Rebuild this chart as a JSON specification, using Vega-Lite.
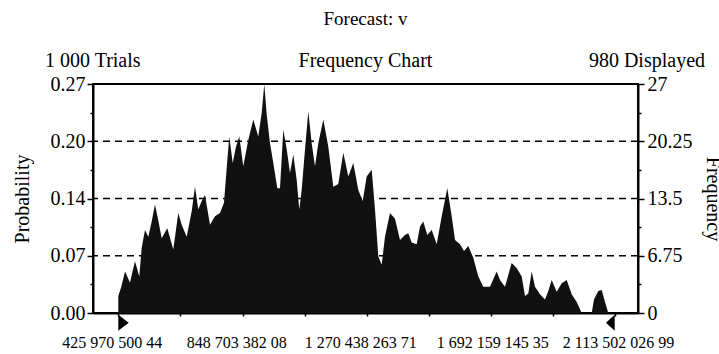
{
  "$schema": "https://vega.github.io/schema/vega-lite/v6.json",
  "width": 545,
  "height": 229,
  "autosize": {"type": "none"},
  "padding": {"left": 93, "top": 84, "right": 81, "bottom": 41},
  "background": "white",
  "config": {
    "font": "Liberation Serif",
    "view": {"stroke": "black", "strokeWidth": 2},
    "axis": {
      "domainColor": "black", "tickColor": "black", "labelColor": "black", "titleColor": "black",
      "labelFont": "Liberation Serif", "titleFont": "Liberation Serif", "titleFontWeight": "normal"
    }
  },
  "title": {
    "text": "Forecast: v",
    "subtitle": "Frequency Chart",
    "anchor": "middle",
    "font": "Liberation Serif",
    "fontSize": 19,
    "fontWeight": "normal",
    "color": "black",
    "subtitleFont": "Liberation Serif",
    "subtitleFontSize": 20,
    "subtitleColor": "black",
    "subtitlePadding": 22,
    "offset": -20
  },
  "layer": [
    {
      "data": {"values": [{"g": 6.75}, {"g": 13.5}, {"g": 20.25}]},
      "mark": {"type": "rule", "strokeDash": [7, 5], "strokeWidth": 1.6, "color": "black"},
      "encoding": {
        "y": {
          "field": "g", "type": "quantitative",
          "scale": {"domain": [0, 27], "nice": false},
          "axis": {
            "orient": "right",
            "values": [0, 3.375, 6.75, 10.125, 13.5, 16.875, 20.25, 23.625, 27],
            "labelExpr": "indexof([0,6.75,13.5,20.25,27], datum.value) >= 0 ? ['0','6.75','13.5','20.25','27'][indexof([0,6.75,13.5,20.25,27], datum.value)] : ''",
            "tickSize": {"condition": {"test": "indexof([0,6.75,13.5,20.25,27], datum.value) >= 0", "value": 6}, "value": 3},
            "tickWidth": 1.5,
            "labelFontSize": 20,
            "labelPadding": 3,
            "labelOverlap": false,
            "labelFlush": false,
            "domainWidth": 2,
            "grid": false,
            "title": "Frequency",
            "titleFontSize": 20,
            "titlePadding": 10
          }
        }
      }
    },
    {
      "data": {"values": [
        {"v": 425.97, "f": 0}, {"v": 425.97, "f": 2.0}, {"v": 436.2, "f": 3.1}, {"v": 448.8, "f": 4.9},
        {"v": 465.7, "f": 3.6}, {"v": 482.7, "f": 6.1}, {"v": 497.4, "f": 4.3}, {"v": 505.5, "f": 7.7},
        {"v": 516.7, "f": 9.8}, {"v": 528.0, "f": 9.0}, {"v": 539.5, "f": 10.8}, {"v": 550.7, "f": 12.8},
        {"v": 562.0, "f": 10.9}, {"v": 573.5, "f": 8.8}, {"v": 592.6, "f": 10.0}, {"v": 612.9, "f": 7.5},
        {"v": 629.9, "f": 11.8}, {"v": 641.5, "f": 10.4}, {"v": 658.5, "f": 9.0}, {"v": 675.5, "f": 12.0},
        {"v": 686.7, "f": 14.9}, {"v": 697.9, "f": 12.2}, {"v": 709.5, "f": 13.2}, {"v": 720.7, "f": 13.9},
        {"v": 737.7, "f": 10.4}, {"v": 754.7, "f": 11.4}, {"v": 771.7, "f": 11.8}, {"v": 785.3, "f": 13.0},
        {"v": 794.5, "f": 17.1}, {"v": 803.3, "f": 20.8}, {"v": 814.9, "f": 17.7}, {"v": 826.1, "f": 19.6},
        {"v": 837.3, "f": 20.8}, {"v": 850.9, "f": 17.3}, {"v": 867.9, "f": 20.4}, {"v": 884.9, "f": 22.8},
        {"v": 901.9, "f": 20.8}, {"v": 913.5, "f": 23.6}, {"v": 922.3, "f": 27.0}, {"v": 930.5, "f": 23.4},
        {"v": 941.7, "f": 20.0}, {"v": 952.9, "f": 17.7}, {"v": 966.5, "f": 14.7}, {"v": 975.7, "f": 14.7},
        {"v": 986.9, "f": 21.6}, {"v": 998.5, "f": 19.3}, {"v": 1009.7, "f": 16.5}, {"v": 1020.9, "f": 18.7},
        {"v": 1032.4, "f": 15.7}, {"v": 1041.3, "f": 12.2}, {"v": 1049.4, "f": 14.5}, {"v": 1060.7, "f": 19.3},
        {"v": 1071.9, "f": 23.8}, {"v": 1083.4, "f": 20.0}, {"v": 1094.7, "f": 17.3}, {"v": 1105.9, "f": 20.0},
        {"v": 1122.9, "f": 22.8}, {"v": 1139.9, "f": 19.6}, {"v": 1156.9, "f": 14.9}, {"v": 1173.9, "f": 15.2},
        {"v": 1190.9, "f": 18.9}, {"v": 1207.9, "f": 16.1}, {"v": 1224.9, "f": 17.7}, {"v": 1241.9, "f": 14.5},
        {"v": 1256.8, "f": 13.2}, {"v": 1270.4, "f": 16.1}, {"v": 1287.4, "f": 16.9}, {"v": 1298.6, "f": 12.2},
        {"v": 1309.8, "f": 6.7}, {"v": 1321.4, "f": 5.7}, {"v": 1332.6, "f": 9.0}, {"v": 1349.6, "f": 11.8},
        {"v": 1366.6, "f": 11.1}, {"v": 1383.6, "f": 8.6}, {"v": 1400.6, "f": 9.2}, {"v": 1411.8, "f": 9.4},
        {"v": 1423.4, "f": 8.3}, {"v": 1440.4, "f": 8.1}, {"v": 1451.6, "f": 10.2}, {"v": 1462.8, "f": 10.8},
        {"v": 1476.4, "f": 9.2}, {"v": 1491.4, "f": 9.8}, {"v": 1508.4, "f": 8.1}, {"v": 1525.4, "f": 11.4},
        {"v": 1544.4, "f": 14.7}, {"v": 1559.4, "f": 11.4}, {"v": 1570.6, "f": 8.6}, {"v": 1587.6, "f": 8.1},
        {"v": 1601.2, "f": 7.3}, {"v": 1615.8, "f": 7.9}, {"v": 1632.8, "f": 6.5}, {"v": 1649.8, "f": 4.3},
        {"v": 1666.8, "f": 3.1}, {"v": 1689.6, "f": 3.1}, {"v": 1712.3, "f": 4.9}, {"v": 1723.6, "f": 3.9},
        {"v": 1740.6, "f": 3.1}, {"v": 1763.3, "f": 5.9}, {"v": 1780.3, "f": 5.3}, {"v": 1797.3, "f": 4.3},
        {"v": 1808.6, "f": 2.0}, {"v": 1819.8, "f": 2.3}, {"v": 1831.3, "f": 4.9}, {"v": 1842.5, "f": 3.1},
        {"v": 1859.5, "f": 2.2}, {"v": 1876.5, "f": 1.6}, {"v": 1887.8, "f": 2.6}, {"v": 1899.3, "f": 3.9},
        {"v": 1916.3, "f": 2.5}, {"v": 1933.3, "f": 3.5}, {"v": 1950.3, "f": 3.9}, {"v": 1967.3, "f": 2.2},
        {"v": 1984.3, "f": 1.3}, {"v": 2001.3, "f": 0}, {"v": 2035.3, "f": 0}, {"v": 2043.1, "f": 1.6},
        {"v": 2057.7, "f": 2.6}, {"v": 2069.3, "f": 2.7}, {"v": 2080.5, "f": 1.3}, {"v": 2091.7, "f": 0}
      ]},
      "mark": {"type": "area", "color": "#111111", "interpolate": "linear"},
      "encoding": {
        "x": {
          "field": "v", "type": "quantitative",
          "scale": {"domain": [340, 2192.7], "nice": false, "zero": false},
          "axis": {
            "title": null,
            "values": [425.97050044, 637.337, 848.70338208, 1059.571, 1270.43826371, 1481.299, 1692.15914535, 1902.831, 2113.50202699],
            "labelExpr": "indexof([425.97050044,848.70338208,1270.43826371,1692.15914535,2113.50202699], datum.value) >= 0 ? replace(format(datum.value * 1000000, ',.2f'), regexp('[,.]', 'g'), ' ') : ''",
            "tickSize": 3,
            "tickWidth": 1.5,
            "labelFontSize": 16,
            "labelBaseline": "alphabetic",
            "labelPadding": 31,
            "labelOffset": {"condition": [{"test": "datum.value < 1500", "value": -6.5}, {"test": "datum.value < 2000", "value": 1.5}], "value": 3.3},
            "labelOverlap": false,
            "labelFlush": false,
            "domainWidth": 2,
            "grid": false
          }
        },
        "y": {
          "field": "f", "type": "quantitative",
          "scale": {"domain": [0, 27], "nice": false},
          "axis": {
            "orient": "left",
            "values": [0, 3.375, 6.75, 10.125, 13.5, 16.875, 20.25, 23.625, 27],
            "labelExpr": "indexof([0,6.75,13.5,20.25,27], datum.value) >= 0 ? ['0.00','0.07','0.14','0.20','0.27'][indexof([0,6.75,13.5,20.25,27], datum.value)] : ''",
            "tickSize": {"condition": {"test": "indexof([0,6.75,13.5,20.25,27], datum.value) >= 0", "value": 6}, "value": 3},
            "tickWidth": 1.5,
            "labelFontSize": 20,
            "labelPadding": 2,
            "labelOverlap": false,
            "labelFlush": false,
            "domainWidth": 2,
            "grid": false,
            "title": "Probability",
            "titleFontSize": 20,
            "titlePadding": 18
          }
        }
      }
    },
    {
      "data": {"values": [{"v": 425.97050044}]},
      "mark": {"type": "point", "shape": "M0,-1L1.3,0L0,1Z", "filled": true, "color": "black", "size": 256, "opacity": 1},
      "encoding": {
        "x": {"field": "v", "type": "quantitative"},
        "y": {"datum": -1.15, "type": "quantitative", "axis": null}
      }
    },
    {
      "data": {"values": [{"v": 2113.50202699}]},
      "mark": {"type": "point", "shape": "M0,-1L-1.1,0L0,1Z", "filled": true, "color": "black", "size": 256, "opacity": 1},
      "encoding": {
        "x": {"field": "v", "type": "quantitative"},
        "y": {"datum": -1.15, "type": "quantitative", "axis": null}
      }
    },
    {
      "data": {"values": [{"label": "1 000 Trials", "v": 176.8}]},
      "mark": {"type": "text", "align": "left", "baseline": "alphabetic", "font": "Liberation Serif", "fontSize": 20, "color": "black"},
      "encoding": {
        "x": {"field": "v", "type": "quantitative"},
        "y": {"datum": 29.0, "type": "quantitative", "axis": null},
        "text": {"field": "label"}
      }
    },
    {
      "data": {"values": [{"label": "980 Displayed", "v": 2420.5}]},
      "mark": {"type": "text", "align": "right", "baseline": "alphabetic", "font": "Liberation Serif", "fontSize": 20, "color": "black"},
      "encoding": {
        "x": {"field": "v", "type": "quantitative"},
        "y": {"datum": 29.0, "type": "quantitative", "axis": null},
        "text": {"field": "label"}
      }
    }
  ],
  "resolve": {"axis": {"y": "independent"}}
}
